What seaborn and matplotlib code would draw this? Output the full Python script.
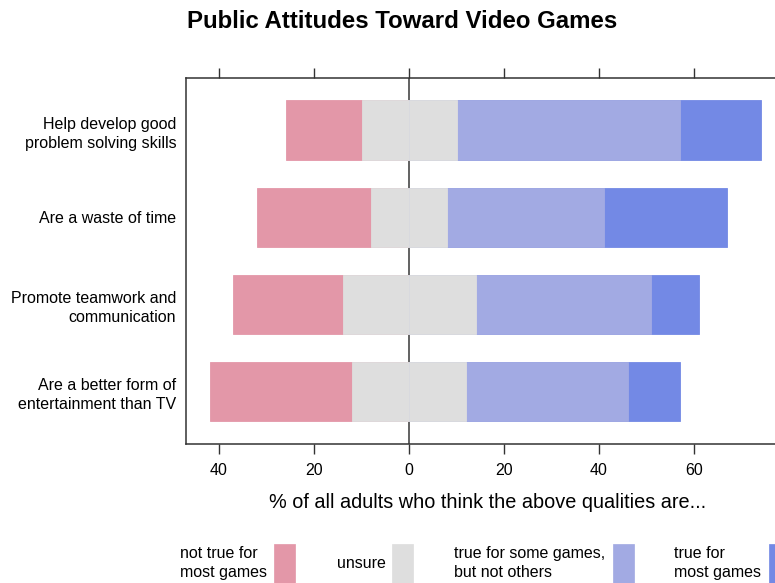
import numpy as np
import pandas as pd
import matplotlib
matplotlib.use("Agg")
import matplotlib.pyplot as plt
from matplotlib.ticker import FuncFormatter, FixedLocator
from matplotlib.patches import Rectangle
import seaborn as sns

# ---- data ----
questions = ["Help develop good\nproblem solving skills",
             "Are a waste of time",
             "Promote teamwork and\ncommunication",
             "Are a better form of\nentertainment than TV"]
not_true = [16, 24, 23, 30]
unsure = [20, 16, 28, 24]
some_games = [47, 33, 37, 34]
most_games = [17, 26, 10, 11]
legend_labels = ["not true for\nmost games", "unsure",
                 "true for some games,\nbut not others", "true for\nmost games"]
colors = ["#E397A8", "#DEDEDE", "#A2AAE3", "#7389E5"]
tick_vals = [-40, -20, 0, 20, 40, 60]

sns.set_theme(style="white")
plt.rcParams['font.family'] = ['Liberation Sans', 'DejaVu Sans']
plt.rcParams['text.color'] = 'black'
plt.rcParams['axes.labelcolor'] = 'black'

df = pd.DataFrame({"q": questions, "not_true": not_true, "unsure": unsure,
                   "some": some_games, "most": most_games})
half = df["unsure"] / 2
df["left_pink"] = -(half + df["not_true"])
df["left_grey"] = -half
df["right_grey"] = half
df["right_some"] = half + df["some"]
df["right_most"] = half + df["some"] + df["most"]

W, H = 775, 583
fig = plt.figure(figsize=(W / 100, H / 100), dpi=100)
px_per_unit = 4.75
x0 = 409
xmin = (186 - x0) / px_per_unit
xmax = 80
right_px = x0 + xmax * px_per_unit
ax = fig.add_axes([186 / W, (H - 444) / H, (right_px - 186) / W, (444 - 77.7) / H])

ax.axvline(0, color="#555555", lw=1.3, zorder=0)

layers = [("left_pink", colors[0]), ("left_grey", colors[1]),
          ("right_most", colors[3]), ("right_some", colors[2]),
          ("right_grey", colors[1])]
for col, c in layers:
    sns.barplot(data=df, x=col, y="q", orient="h", color=c, width=0.68,
                saturation=1, edgecolor=c, linewidth=0.6, ax=ax, zorder=2)

ax.set_xlim(xmin, xmax)
ax.set_ylim(3.6, -0.6)
ax.xaxis.set_major_locator(FixedLocator(tick_vals))
ax.xaxis.set_major_formatter(FuncFormatter(lambda v, p: f"{abs(v):g}"))
ax.tick_params(axis="x", which="both", direction="out", length=7.5, width=1,
               color="#333333", labelsize=11.5, pad=6, top=True, bottom=True,
               labeltop=False, labelbottom=True, labelcolor="black")
ax.tick_params(axis="y", length=0, labelsize=11.5, pad=7, labelcolor="black")
for lab in ax.get_yticklabels():
    lab.set_horizontalalignment("right")
    lab.set_multialignment("right")
    lab.set_linespacing(1.35)
ax.set_ylabel("")
ax.set_xlabel("% of all adults who think the above qualities are...",
              fontsize=14.3, labelpad=11, color="black")
for s in ["left", "top", "bottom"]:
    ax.spines[s].set_visible(True)
    ax.spines[s].set_color("#333333")
    ax.spines[s].set_linewidth(1.1)
ax.spines["right"].set_visible(False)

fig.text(402.5 / W, 1 - 22 / H, "Public Attitudes Toward Video Games",
         ha="center", va="center", fontsize=17.3, fontweight="bold",
         color="black")

# legend (manual, lattice-style)
text_x = [180, 337, 454, 674]
box_x = [274, 392, 613, 769]
for t, bx, lab, c in zip(text_x, box_x, legend_labels, colors):
    fig.text(t / W, 1 - 563 / H, lab, ha="left", va="center", fontsize=11.5,
             linespacing=1.35, color="black")
    fig.add_artist(Rectangle((bx / W, 0), 21 / W, (583 - 544) / H,
                             transform=fig.transFigure, facecolor=c,
                             edgecolor=c, lw=0.5))

fig.savefig("out.png", dpi=100)
